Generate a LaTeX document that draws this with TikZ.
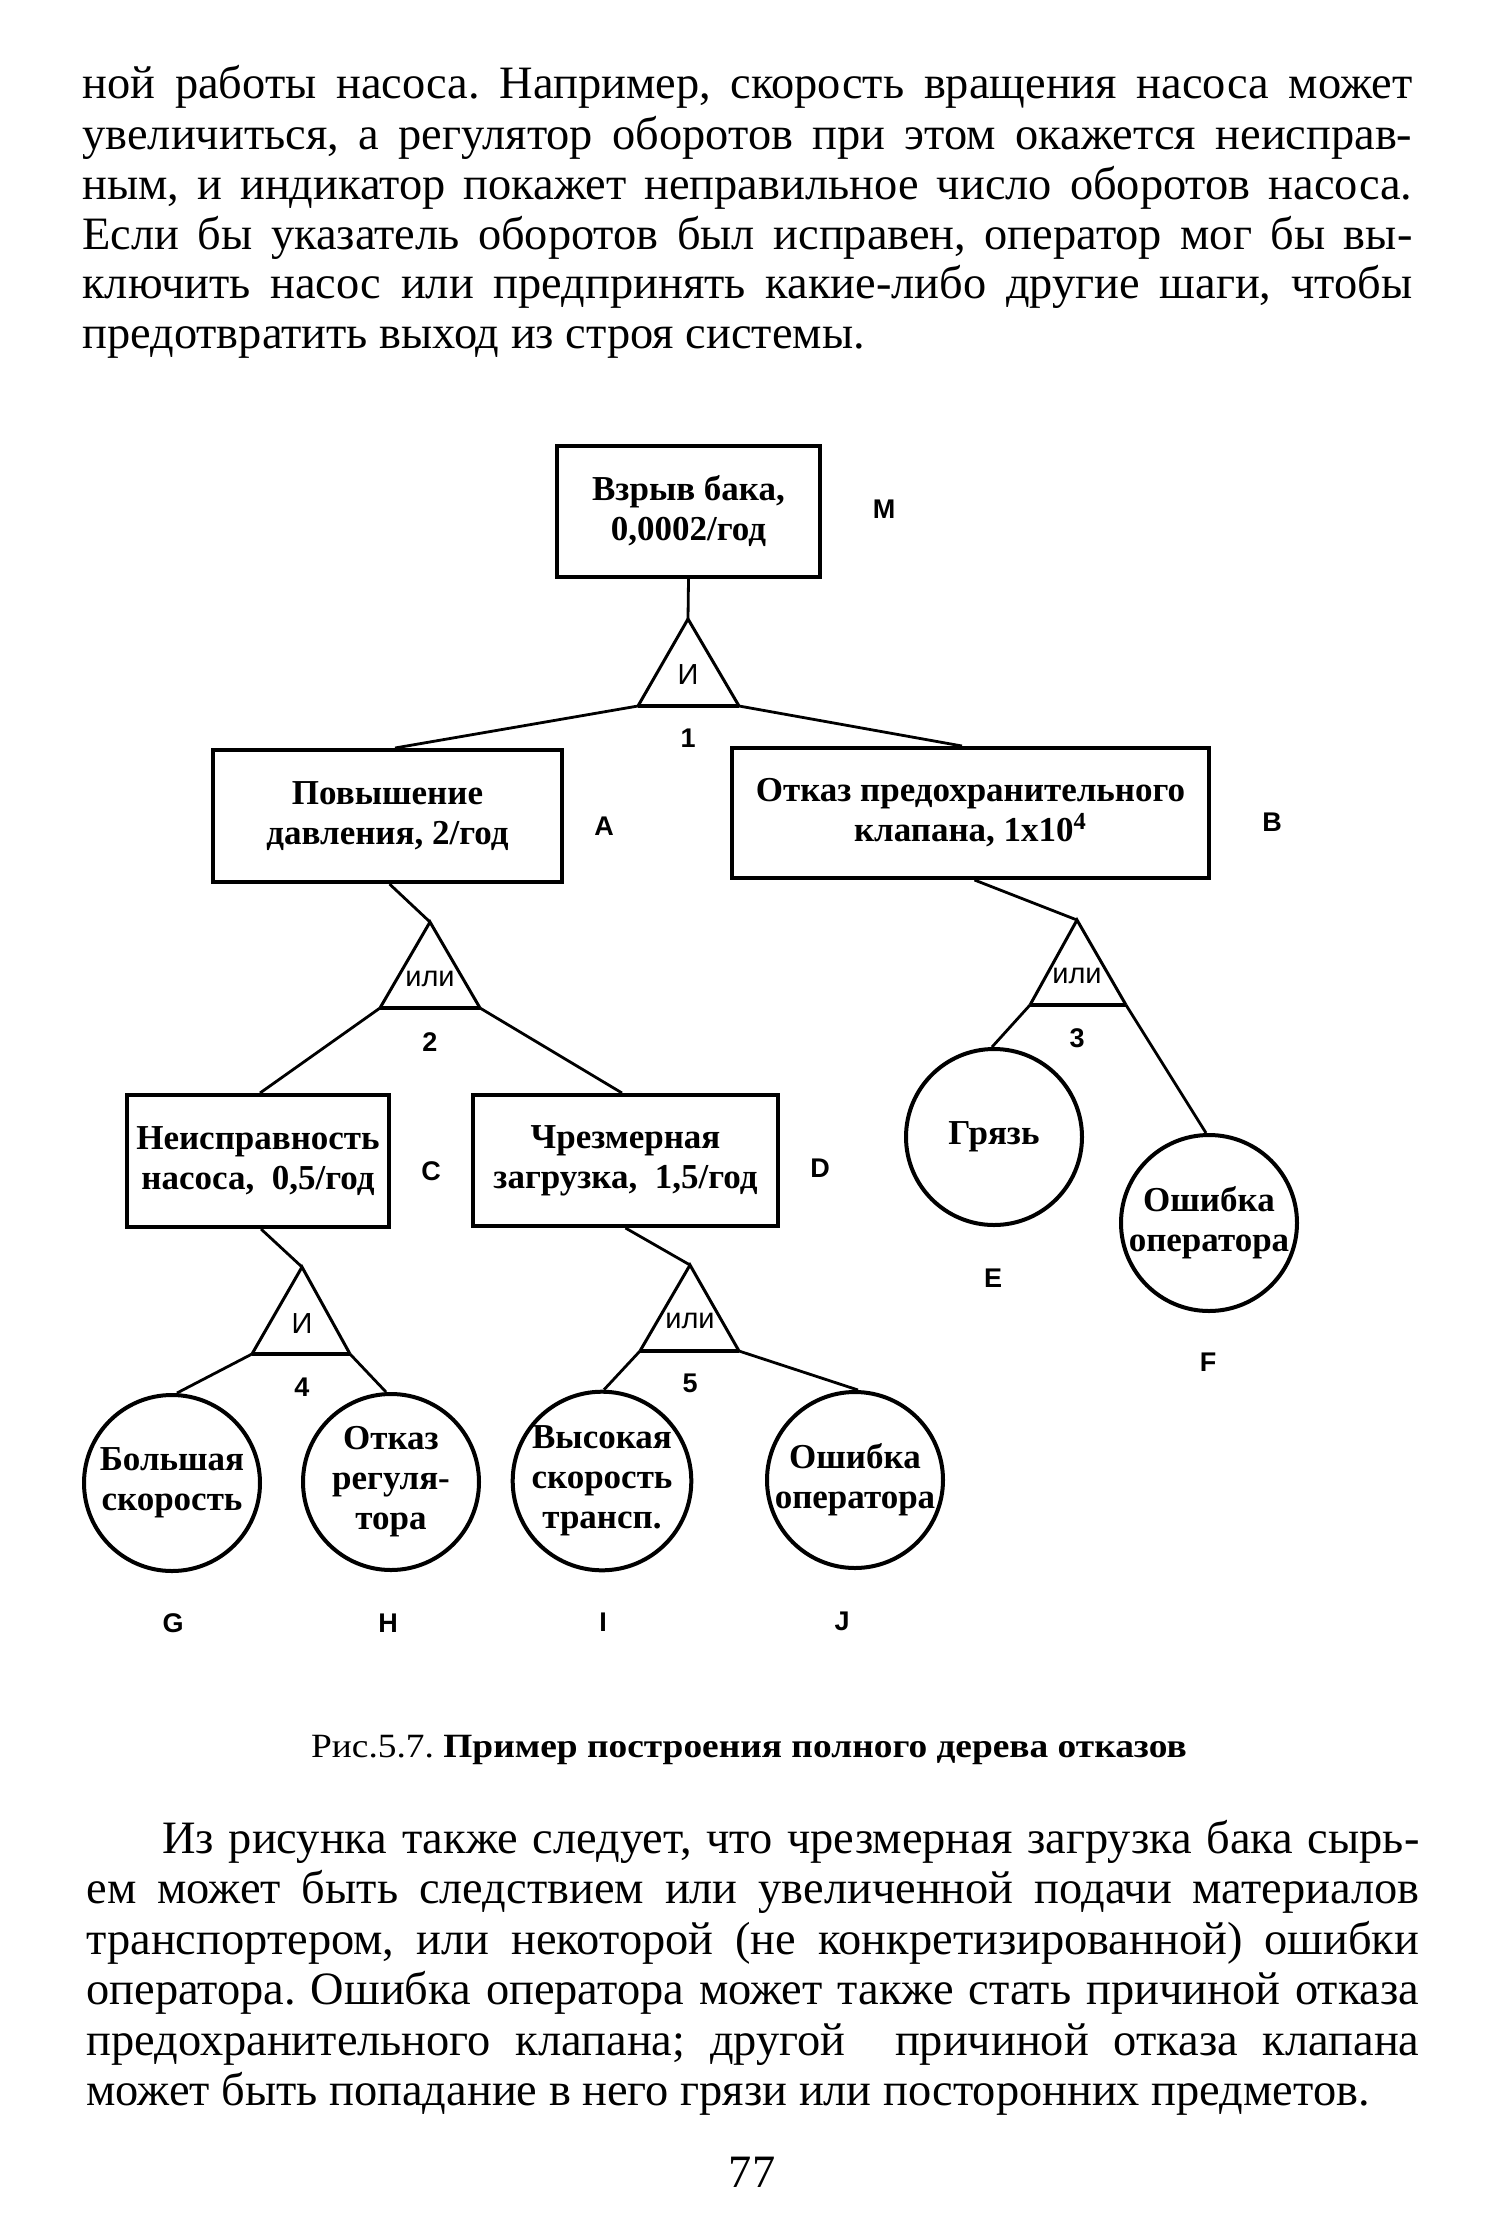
\documentclass[tikz,border=0pt]{standalone}
\usepackage{fontspec}
\setmainfont{Liberation Serif}
\setsansfont{Liberation Sans}
\usetikzlibrary{calc}
\newcommand{\bxfont}{\bfseries\fontsize{17.5}{20}\selectfont}
\newcommand{\bodyfont}{\fontsize{23.2}{25}\selectfont}
\frenchspacing
\begin{document}
\begin{tikzpicture}[x=0.5pt,y=-0.5pt,
  txt/.style={anchor=base west,inner sep=0pt,font=\bodyfont},
  box/.style={draw,line width=2pt,inner sep=0pt,align=center,font=\bxfont},
  circ/.style={draw,circle,line width=2pt,minimum size=88pt,inner sep=0pt,align=center,font=\bxfont},
  gateline/.style={line width=1.5pt,line join=miter},
  gatebase/.style={line width=2pt},
  conn/.style={line width=1.4pt},
  lbl/.style={inner sep=0pt,font=\sffamily\bfseries\fontsize{13.5}{14}\selectfont},
  gtxt/.style={inner sep=0pt,font=\sffamily\fontsize{14.5}{15}\selectfont}]
\useasboundingbox (0,0) rectangle (1485,2216);
\fill[white] (0,0) rectangle (1485,2216);

% paragraph 1
\node[txt] (p1) at (82,99) {\makebox[665pt][s]{ной работы насоса. Например, скорость вращения насоса может}};
\node[txt] (p2) at (82,149) {\makebox[665pt][s]{увеличиться, а регулятор оборотов при этом окажется неисправ-}};
\node[txt] (p3) at (82,199) {\makebox[665pt][s]{ным, и индикатор покажет неправильное число оборотов насоса.}};
\node[txt] (p4) at (82,249) {\makebox[665pt][s]{Если бы указатель оборотов был исправен, оператор мог бы вы-}};
\node[txt] (p5) at (82,298) {\makebox[665pt][s]{ключить насос или предпринять какие-либо другие шаги, чтобы}};
\node[txt] (p6) at (82,348) {предотвратить выход из строя системы.};

% boxes
\node[box,minimum width=131.5pt,minimum height=65.5pt] (M) at (688.5,511.5) {Взрыв бака,\\0,0002/год};
\node[box,minimum width=174.5pt,minimum height=66pt] (A) at (387.5,816) {Повышение\\давления, 2/год};
\node[box,minimum width=238.5pt,minimum height=65pt] (B) at (970.5,813) {Отказ предохранительного\\клапана, 1x10\textsuperscript{4}};
\node[box,minimum width=131pt,minimum height=66pt] (C) at (258,1161) {Неисправность\\насоса,\ \ 0,5/год};
\node[box,minimum width=152.5pt,minimum height=65.5pt] (D) at (625.5,1160.5) {Чрезмерная\\загрузка,\ \ 1,5/год};

% circles
\node[circ] (E) at (994,1137) {Грязь};
\node[circ] (F) at (1209,1223) {Ошибка\\оператора};
\node[circ] (G) at (172,1483) {Большая\\скорость};
\node[circ] (H) at (391,1482) {Отказ\\регуля-\\тора};
\node[circ] (I) at (602,1481) {Высокая\\скорость\\трансп.};
\node[circ] (J) at (855,1480) {Ошибка\\оператора};

% gates
\coordinate (g1a) at (688,619); \coordinate (g1l) at (638,706); \coordinate (g1r) at (739,706);
\coordinate (g2a) at (430,922); \coordinate (g2l) at (380,1008); \coordinate (g2r) at (480,1008);
\coordinate (g3a) at (1077,920); \coordinate (g3l) at (1030,1005); \coordinate (g3r) at (1126,1005);
\coordinate (g4a) at (302,1267); \coordinate (g4l) at (252,1354); \coordinate (g4r) at (350,1354);
\coordinate (g5a) at (690,1265); \coordinate (g5l) at (640,1351); \coordinate (g5r) at (739,1351);
\foreach \g in {g1,g2,g3,g4,g5}{
  \draw[gateline] (\g l) -- (\g a) -- (\g r);
  \draw[gatebase] (\g l) -- (\g r);
}
\node[gtxt] (t1) at (688,675) {И};
\node[gtxt] (t2) at (430,979) {или};
\node[gtxt] (t3) at (1077,976) {или};
\node[gtxt] (t4) at (302,1324) {И};
\node[gtxt] (t5) at (690,1321) {или};
\node[lbl] (n1) at (688,738) {1};
\node[lbl] (n2) at (430,1042) {2};
\node[lbl] (n3) at (1077,1038) {3};
\node[lbl] (n4) at (302,1387) {4};
\node[lbl] (n5) at (690,1383) {5};

% connectors
\draw[conn] (M.south) -- (g1a);
\draw[conn] (g1l) -- ([xshift=3.75pt]A.north);
\draw[conn] (g1r) -- ([xshift=-4.25pt]B.north);
\draw[conn] ([xshift=1pt]A.south) -- (g2a);
\draw[conn] (g2l) -- ([xshift=1pt]C.north);
\draw[conn] (g2r) -- ([xshift=-1.75pt]D.north);
\draw[conn] ([xshift=2pt]B.south) -- (g3a);
\draw[conn] (g3l) -- ([xshift=-1pt]E.north);
\draw[conn] (g3r) -- ([xshift=-1.5pt]F.north);
\draw[conn] ([xshift=1.5pt]C.south) -- (g4a);
\draw[conn] (g4l) -- ([xshift=2.5pt]G.north);
\draw[conn] (g4r) -- ([xshift=-2.5pt]H.north);
\draw[conn] (D.south) -- (g5a);
\draw[conn] (g5l) -- ([xshift=1pt]I.north);
\draw[conn] (g5r) -- ([xshift=1.5pt]J.north);

% letter labels
\node[lbl] (lM) at (884,509) {M};
\node[lbl] (lA) at (604,826) {A};
\node[lbl] (lB) at (1272,822) {B};
\node[lbl] (lC) at (431,1171) {C};
\node[lbl] (lD) at (820,1168) {D};
\node[lbl] (lE) at (993,1278) {E};
\node[lbl] (lF) at (1208,1362) {F};
\node[lbl] (lG) at (173,1623) {G};
\node[lbl] (lH) at (388,1623) {H};
\node[lbl] (lI) at (603,1622) {I};
\node[lbl] (lJ) at (842,1621) {J};

% caption
\node[anchor=base,inner sep=0pt,font=\fontsize{17}{19}\selectfont] (cap) at (749,1757) {\scalebox{1.1}[1]{Рис.5.7. \textbf{Пример построения полного дерева отказов}}};

% paragraph 2
\node[txt] (q1) at (162,1853) {\makebox[628.5pt][s]{Из рисунка также следует, что чрезмерная загрузка бака сырь-}};
\node[txt] (q2) at (86,1903.5) {\makebox[666.5pt][s]{ем может быть следствием или увеличенной подачи материалов}};
\node[txt] (q3) at (86,1954) {\makebox[666.5pt][s]{транспортером, или некоторой (не конкретизированной) ошибки}};
\node[txt] (q4) at (86,2004.5) {\makebox[666.5pt][s]{оператора. Ошибка оператора может также стать причиной отказа}};
\node[txt] (q5) at (86,2055) {\makebox[666.5pt][s]{предохранительного клапана; другой \ причиной отказа клапана}};
\node[txt] (q6) at (86,2105) {может быть попадание в него грязи или посторонних предметов.};

% page number
\node[anchor=base,inner sep=0pt,font=\bodyfont] (pg) at (752,2187) {77};
\end{tikzpicture}
\end{document}
